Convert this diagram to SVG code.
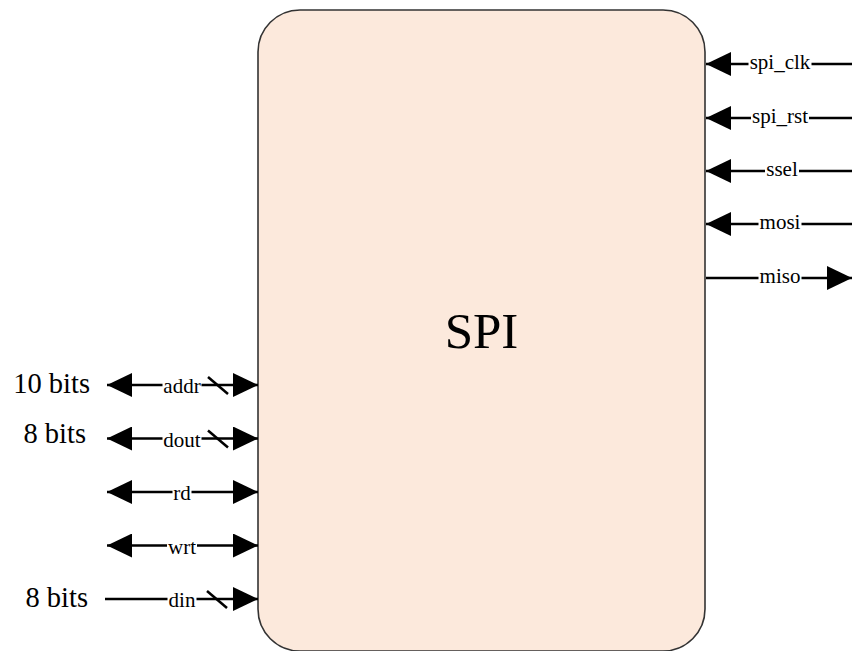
<svg xmlns="http://www.w3.org/2000/svg" width="852" height="651" viewBox="0 0 852 651">
  <defs>
    <marker id="ah" markerUnits="userSpaceOnUse" markerWidth="26" markerHeight="24" refX="25" refY="12" orient="auto-start-reverse" viewBox="0 0 26 24">
      <path d="M0,0 L25,12 L0,24 z" fill="#000"/>
    </marker>
    <style>
      .box { fill: #fce9dc; stroke: #333; stroke-width: 1.6; }
      .wire { stroke: #000; stroke-width: 2.5; fill: none; }
      .slash { stroke: #000; stroke-width: 2.5; }
      .bg { fill: #fff; }
    </style>
  </defs>

  <g id="spi">
    <rect class="box" x="258" y="10" width="447" height="641" rx="42" ry="42"/>
    <text x="481.5" y="348" font-family="Liberation Serif, serif" font-size="51" text-anchor="middle" fill="#000">SPI</text>
  </g>

  <g id="connectors">
    <g id="wires">
      <line class="wire" x1="852" y1="64" x2="706" y2="64" marker-end="url(#ah)"/>
      <line class="wire" x1="852" y1="118" x2="706" y2="118" marker-end="url(#ah)"/>
      <line class="wire" x1="852" y1="171" x2="706" y2="171" marker-end="url(#ah)"/>
      <line class="wire" x1="852" y1="224" x2="706" y2="224" marker-end="url(#ah)"/>
      <line class="wire" x1="706" y1="278" x2="852" y2="278" marker-end="url(#ah)"/>
      <line class="wire" x1="107" y1="385" x2="258" y2="385" marker-start="url(#ah)" marker-end="url(#ah)"/>
      <line class="wire" x1="107" y1="438.5" x2="258" y2="438.5" marker-start="url(#ah)" marker-end="url(#ah)"/>
      <line class="wire" x1="107" y1="492" x2="258" y2="492" marker-start="url(#ah)" marker-end="url(#ah)"/>
      <line class="wire" x1="107" y1="545.5" x2="258" y2="545.5" marker-start="url(#ah)" marker-end="url(#ah)"/>
      <line class="wire" x1="105" y1="599" x2="258" y2="599" marker-end="url(#ah)"/>
      <line class="slash" x1="208" y1="377" x2="228" y2="394"/>
      <line class="slash" x1="208" y1="430.5" x2="228" y2="447.5"/>
      <line class="slash" x1="207" y1="591" x2="227" y2="608"/>
    </g>
    <g id="label-bg">
      <rect class="bg" x="748.5" y="56" width="63" height="16"/>
      <rect class="bg" x="751" y="110" width="58" height="16"/>
      <rect class="bg" x="765" y="163" width="34" height="16"/>
      <rect class="bg" x="758.5" y="216" width="43" height="16"/>
      <rect class="bg" x="758.5" y="270" width="43" height="16"/>
      <rect class="bg" x="162.5" y="377" width="39" height="16"/>
      <rect class="bg" x="162.5" y="430.5" width="39" height="16"/>
      <rect class="bg" x="172.5" y="484" width="19" height="16"/>
      <rect class="bg" x="167" y="537.5" width="30" height="16"/>
      <rect class="bg" x="167.5" y="591" width="29" height="16"/>
    </g>
    <g id="labels" font-family="Liberation Serif, serif" font-size="21" text-anchor="middle" fill="#000">
      <text x="780" y="69">spi_clk</text>
      <text x="780" y="123">spi_rst</text>
      <text x="782" y="176">ssel</text>
      <text x="780" y="229">mosi</text>
      <text x="780" y="283">miso</text>
      <text x="182" y="393">addr</text>
      <text x="182" y="446.5">dout</text>
      <text x="182" y="500">rd</text>
      <text x="182" y="553.5">wrt</text>
      <text x="182" y="607">din</text>
    </g>
    <g id="widths" font-family="Liberation Serif, serif" font-size="28.5" text-anchor="end" fill="#000">
      <text x="90" y="393">10 bits</text>
      <text x="86" y="443">8 bits</text>
      <text x="88" y="607">8 bits</text>
    </g>
  </g>
</svg>
